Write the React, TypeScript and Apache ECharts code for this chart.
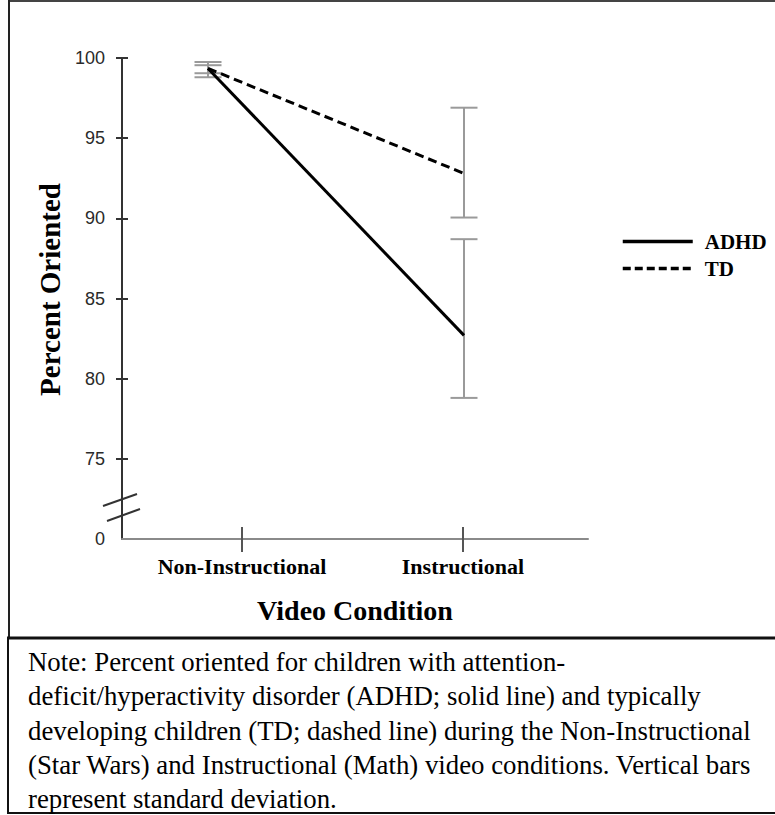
import React, { useEffect, useRef } from "react";
import * as echarts from "echarts";

const categories = ["Non-Instructional", "Instructional"];
const adhdMean = [99.35, 82.7];
const adhdLow = [98.8, 78.8];
const adhdHigh = [99.75, 88.7];
const tdMean = [99.35, 92.8];
const tdLow = [99.05, 90.05];
const tdHigh = [99.55, 96.9];
const yTickValues = [70, 75, 80, 85, 90, 95, 100];
const yTickLabels = ["0", "75", "80", "85", "90", "95", "100"];
const noteLines = [
  "Note: Percent oriented for children with attention-",
  "deficit/hyperactivity disorder (ADHD; solid line) and typically",
  "developing children (TD; dashed line) during the Non-Instructional",
  "(Star Wars) and Instructional (Math) video conditions. Vertical bars",
  "represent standard deviation.",
];

const SERIF = '"Liberation Serif", "Times New Roman", serif';
const SANS = '"Liberation Sans", Arial, sans-serif';

export default function App() {
  const ref = useRef<HTMLDivElement>(null);
  useEffect(() => {
    if (!ref.current) return;
    const chart = echarts.init(ref.current, undefined, { renderer: "svg" });

    const errRender = (params: any, api: any) => {
      const x = api.value(0);
      const lo = api.coord([x, api.value(1)]);
      const hi = api.coord([x, api.value(2)]);
      const h = 13.5;
      const style = { stroke: "#9a9a9a", lineWidth: 2 };
      return {
        type: "group",
        children: [
          { type: "line", shape: { x1: lo[0], y1: lo[1], x2: hi[0], y2: hi[1] }, style },
          { type: "line", shape: { x1: lo[0] - h, y1: lo[1], x2: lo[0] + h, y2: lo[1] }, style },
          { type: "line", shape: { x1: hi[0] - h, y1: hi[1], x2: hi[0] + h, y2: hi[1] }, style },
        ],
      };
    };

    const yMin = yTickValues[0];
    const yMax = yTickValues[yTickValues.length - 1];

    const option: any = {
      animation: false,
      backgroundColor: "#ffffff",
      grid: [
        { left: 122, top: 58, width: 466, height: 481 },
        { left: 208, top: 58, width: 256, height: 481 },
      ],
      legend: {
        orient: "vertical",
        left: 621,
        top: 231,
        padding: 0,
        itemWidth: 70,
        itemHeight: 14,
        itemGap: 6,
        data: [
          { name: "ADHD", lineStyle: { width: 3.5, type: "solid", color: "#000" } },
          { name: "TD", lineStyle: { width: 3.5, type: [8, 4], color: "#000" } },
        ],
        itemStyle: { opacity: 0 },
        textStyle: {
          fontFamily: SERIF,
          fontWeight: "bold",
          fontSize: 21,
          color: "#000",
          padding: [0, 0, 0, 7],
        },
      },
      xAxis: [
        {
          type: "value",
          gridIndex: 0,
          min: -0.543,
          max: 1.566,
          position: "bottom",
          splitLine: { show: false },
          axisLine: { show: true, onZero: false, lineStyle: { color: "#8a8a8a", width: 2 } },
          axisTick: {
            show: true,
            customValues: [0, 1],
            length: 13,
            lineStyle: { color: "#555", width: 2 },
          },
          axisLabel: {
            customValues: [0, 1],
            formatter: (v: number) => categories[Math.round(v)] ?? "",
            fontFamily: SERIF,
            fontWeight: "bold",
            fontSize: 22,
            color: "#000",
            margin: 16,
          },
          name: "Video Condition",
          nameLocation: "middle",
          nameGap: 57,
          nameTextStyle: { fontFamily: SERIF, fontWeight: "bold", fontSize: 28, color: "#000" },
        },
        {
          type: "value",
          gridIndex: 0,
          min: -0.543,
          max: 1.566,
          position: "bottom",
          splitLine: { show: false },
          axisLine: { show: false, onZero: false },
          axisTick: {
            show: true,
            inside: true,
            customValues: [0, 1],
            length: 12,
            lineStyle: { color: "#555", width: 2 },
          },
          axisLabel: { show: false },
        },
        {
          type: "category",
          gridIndex: 1,
          data: categories,
          boundaryGap: false,
          show: false,
        },
      ],
      yAxis: [
        {
          type: "value",
          gridIndex: 0,
          min: yMin,
          max: yMax,
          interval: 5,
          position: "left",
          splitLine: { show: false },
          axisLine: { show: true, onZero: false, lineStyle: { color: "#333", width: 2 } },
          axisTick: {
            show: true,
            customValues: yTickValues.slice(1),
            length: 6,
            lineStyle: { color: "#333", width: 2 },
          },
          axisLabel: {
            formatter: (v: number) => yTickLabels[yTickValues.indexOf(v)] ?? "",
            fontFamily: SANS,
            fontSize: 18,
            color: "#2a2a2a",
            margin: 17,
          },
          name: "Percent Oriented",
          nameLocation: "middle",
          nameGap: 52,
          nameTextStyle: { fontFamily: SERIF, fontWeight: "bold", fontSize: 29, color: "#000", padding: [0, 0, 0, 18] },
        },
        {
          type: "value",
          gridIndex: 0,
          min: yMin,
          max: yMax,
          interval: 5,
          position: "left",
          splitLine: { show: false },
          axisLine: { show: false, onZero: false },
          axisTick: {
            show: true,
            inside: true,
            customValues: yTickValues.slice(1),
            length: 6,
            lineStyle: { color: "#333", width: 2 },
          },
          axisLabel: { show: false },
        },
        {
          type: "value",
          gridIndex: 1,
          min: yMin,
          max: yMax,
          show: false,
          splitLine: { show: false },
        },
      ],
      series: [
        {
          name: "ADHD err",
          type: "custom",
          xAxisIndex: 2,
          yAxisIndex: 2,
          renderItem: errRender,
          encode: { x: 0, y: [1, 2] },
          data: categories.map((_, i) => [i, adhdLow[i], adhdHigh[i]]),
          z: 1,
        },
        {
          name: "TD err",
          type: "custom",
          xAxisIndex: 2,
          yAxisIndex: 2,
          renderItem: errRender,
          encode: { x: 0, y: [1, 2] },
          data: categories.map((_, i) => [i, tdLow[i], tdHigh[i]]),
          z: 1,
        },
        {
          name: "ADHD",
          type: "line",
          xAxisIndex: 2,
          yAxisIndex: 2,
          data: adhdMean,
          symbol: "none",
          lineStyle: { color: "#000", width: 3, type: "solid" },
          itemStyle: { color: "#000" },
          z: 3,
        },
        {
          name: "TD",
          type: "line",
          xAxisIndex: 2,
          yAxisIndex: 2,
          data: tdMean,
          symbol: "none",
          lineStyle: { color: "#000", width: 3, type: [9, 5] },
          itemStyle: { color: "#000" },
          z: 3,
        },
      ],
      graphic: [
        { type: "line", shape: { x1: 9, y1: 1, x2: 775, y2: 1 }, style: { stroke: "#444", lineWidth: 2 } },
        { type: "line", shape: { x1: 9, y1: 0, x2: 9, y2: 638 }, style: { stroke: "#222", lineWidth: 2 } },
        { type: "line", shape: { x1: 7, y1: 638, x2: 775, y2: 638 }, style: { stroke: "#111", lineWidth: 3 } },
        { type: "line", shape: { x1: 8, y1: 638, x2: 8, y2: 813 }, style: { stroke: "#111", lineWidth: 2 } },
        { type: "line", shape: { x1: 7, y1: 813, x2: 775, y2: 813 }, style: { stroke: "#111", lineWidth: 2 } },
        { type: "line", shape: { x1: 103, y1: 506, x2: 137, y2: 494 }, style: { stroke: "#333", lineWidth: 2 } },
        { type: "line", shape: { x1: 107, y1: 521, x2: 140, y2: 509 }, style: { stroke: "#333", lineWidth: 2 } },
        {
          type: "text",
          x: 28,
          y: 645,
          style: {
            text: noteLines.join("\n"),
            font: `26.8px ${SERIF}`,
            lineHeight: 34.3,
            fill: "#000",
          },
        },
      ],
    };
    chart.setOption(option);
    return () => chart.dispose();
  }, []);
  return (
    <div
      ref={ref}
      style={{ position: "absolute", left: 0, top: 0, width: 775, height: 815, background: "#fff" }}
    />
  );
}
